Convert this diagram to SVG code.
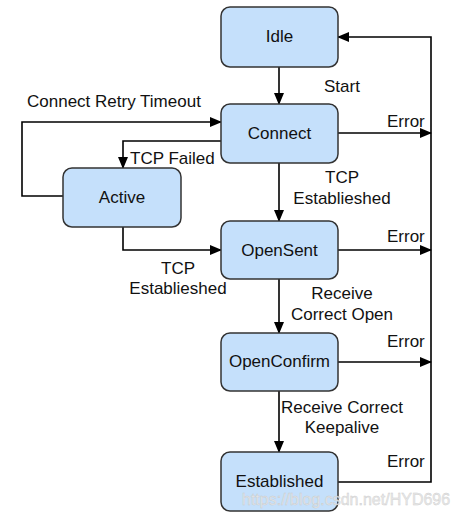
<svg xmlns="http://www.w3.org/2000/svg" width="458" height="518" viewBox="0 0 458 518">
<defs>
<marker id="ah" markerWidth="12" markerHeight="10" refX="11" refY="5" orient="auto" markerUnits="userSpaceOnUse">
<path d="M0,0 L12,5 L0,10 Z" fill="#000"/>
</marker>
<style>
.box{fill:#c5e0fb;stroke:#333;stroke-width:1.5}
.t{font-family:"Liberation Sans",Arial,sans-serif;font-size:17px;fill:#111}
.c{text-anchor:middle}
.ln{fill:none;stroke:#000;stroke-width:1.6}
.wm{font-family:"Liberation Sans",Arial,sans-serif;font-size:16px;fill:#e8e8e8;stroke:#c8c8c8;stroke-width:0.4;opacity:0.9}
</style>
</defs>
<rect width="458" height="518" fill="#fff"/>
<g id="connectors">
<path class="ln" d="M279,67 V104" marker-end="url(#ah)"/>
<path class="ln" d="M279,163 V221" marker-end="url(#ah)"/>
<path class="ln" d="M279,279 V333" marker-end="url(#ah)"/>
<path class="ln" d="M279,391 V452" marker-end="url(#ah)"/>
<path class="ln" d="M63,196 H22 V122 H221" marker-end="url(#ah)"/>
<path class="ln" d="M221,141 H123 V168" marker-end="url(#ah)"/>
<path class="ln" d="M123,227 V250 H221" marker-end="url(#ah)"/>
<path class="ln" d="M338,133 H431" marker-end="url(#ah)"/>
<path class="ln" d="M338,250 H431" marker-end="url(#ah)"/>
<path class="ln" d="M338,362 H431" marker-end="url(#ah)"/>
<path class="ln" d="M338,482 H431 V37 H338" marker-end="url(#ah)"/>
<text class="t" x="324" y="92">Start</text>
<text class="t" x="27" y="107">Connect Retry Timeout</text>
<text class="t" x="130" y="164">TCP Failed</text>
<text class="t" x="387" y="127">Error</text>
<text class="t c" x="342" y="183">TCP</text>
<text class="t c" x="342" y="204">Establieshed</text>
<text class="t" x="387" y="242">Error</text>
<text class="t c" x="178" y="274">TCP</text>
<text class="t c" x="178" y="294">Establieshed</text>
<text class="t c" x="342" y="299">Receive</text>
<text class="t c" x="342" y="320">Correct Open</text>
<text class="t" x="387" y="347">Error</text>
<text class="t" x="281" y="413">Receive Correct</text>
<text class="t c" x="342" y="433">Keepalive</text>
<text class="t" x="387" y="467">Error</text>
</g>
<g id="idle"><rect class="box" x="221" y="7" width="117" height="60" rx="9"/><text class="t c" x="279.5" y="42">Idle</text></g>
<g id="connect"><rect class="box" x="221" y="104" width="117" height="59" rx="9"/><text class="t c" x="279.5" y="139">Connect</text></g>
<g id="active"><rect class="box" x="63" y="168" width="118" height="59" rx="9"/><text class="t c" x="122" y="203">Active</text></g>
<g id="opensent"><rect class="box" x="221" y="221" width="117" height="58" rx="9"/><text class="t c" x="279.5" y="256">OpenSent</text></g>
<g id="openconfirm"><rect class="box" x="221" y="333" width="117" height="58" rx="9"/><text class="t c" x="279.5" y="367">OpenConfirm</text></g>
<g id="established"><rect class="box" x="221" y="452" width="117" height="59" rx="9"/><text class="t c" x="279.5" y="487">Established</text></g>
<text class="wm" x="242" y="505">https://blog.csdn.net/HYD696</text>
</svg>
